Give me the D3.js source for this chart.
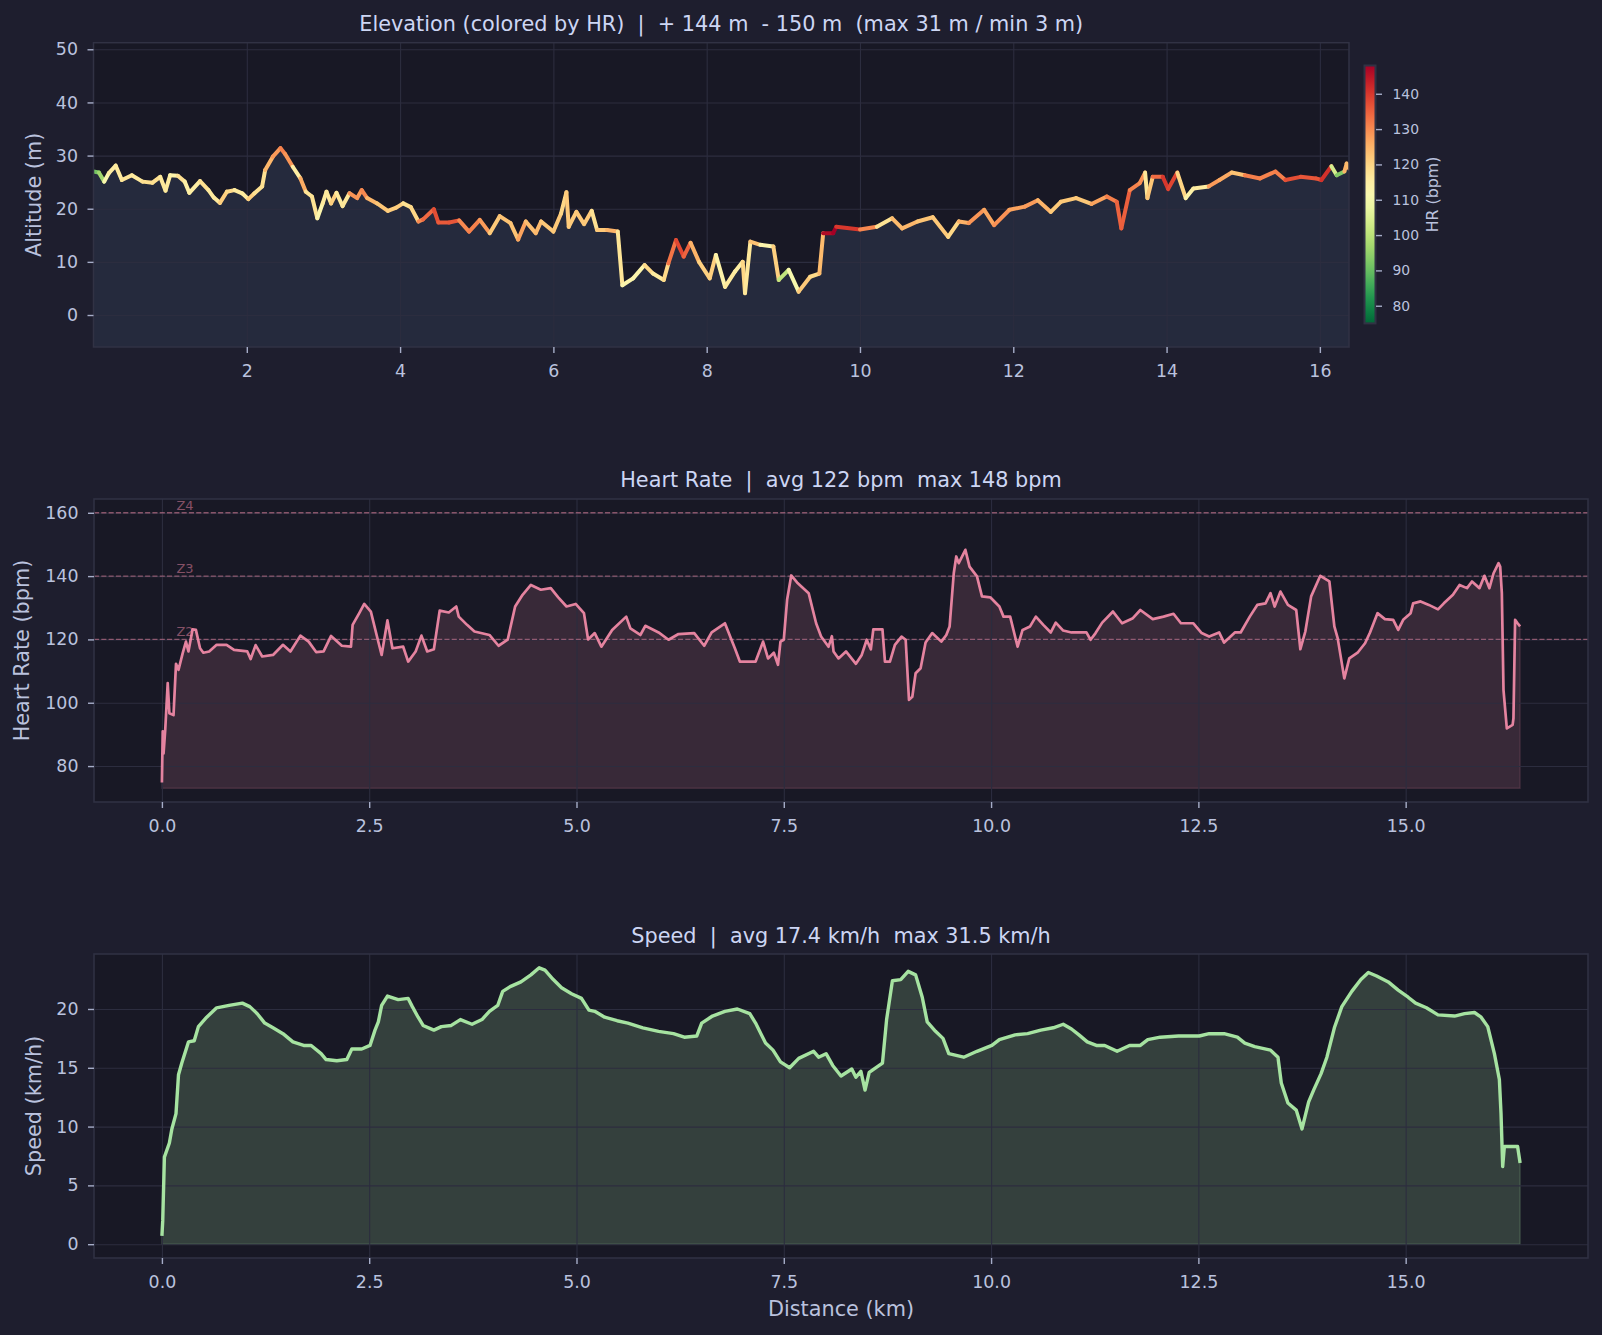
<!DOCTYPE html>
<html><head><meta charset="utf-8">
<script src="https://cdn.jsdelivr.net/npm/d3@7"></script>
<style>body{margin:0;background:#1e1e2e;}svg{display:block}</style>
</head><body><svg id="c" width="1602" height="1335"></svg>
<script>
// ---------------- DATA ----------------
const elevDist=[0.00,0.07,0.14,0.20,0.29,0.37,0.50,0.64,0.77,0.87,0.94,1.00,1.10,1.19,1.25,1.39,1.50,1.57,1.65,1.74,1.84,1.94,2.02,2.10,2.20,2.24,2.34,2.44,2.50,2.60,2.70,2.77,2.85,2.92,2.99,3.04,3.10,3.17,3.25,3.34,3.44,3.50,3.57,3.70,3.84,3.95,4.04,4.14,4.24,4.30,4.44,4.50,4.64,4.77,4.90,5.04,5.17,5.30,5.44,5.54,5.64,5.77,5.84,6.00,6.10,6.17,6.20,6.30,6.40,6.50,6.57,6.70,6.84,6.90,7.04,7.19,7.30,7.44,7.50,7.60,7.70,7.79,7.90,8.04,8.12,8.24,8.37,8.47,8.50,8.57,8.70,8.87,8.94,9.07,9.20,9.35,9.47,9.52,9.65,9.69,10.00,10.22,10.42,10.55,10.75,10.95,11.15,11.29,11.42,11.62,11.75,11.95,12.15,12.32,12.49,12.62,12.82,13.02,13.22,13.35,13.41,13.52,13.65,13.72,13.75,13.82,13.95,14.02,14.14,14.25,14.35,14.55,14.69,14.85,15.02,15.22,15.42,15.55,15.75,15.95,16.02,16.15,16.22,16.32,16.35,16.38];
const elevAlt=[27.0,26.8,25.1,26.7,28.1,25.4,26.3,25.1,24.9,26.0,23.4,26.3,26.2,25.1,23.0,25.2,23.5,22.1,21.1,23.2,23.5,22.9,21.8,22.9,24.2,27.3,29.8,31.4,30.3,27.9,25.7,23.2,22.3,18.2,21.0,23.2,21.0,23.0,20.5,22.9,22.0,23.5,22.0,21.0,19.6,20.2,21.0,20.3,17.6,18.0,19.9,17.4,17.4,17.8,15.7,17.9,15.4,18.6,17.3,14.2,17.6,15.4,17.6,15.7,19.1,23.1,16.6,19.4,17.1,19.6,16.0,16.0,15.7,5.6,6.9,9.4,7.8,6.6,9.7,14.1,11.0,13.6,10.0,6.9,11.3,5.3,8.2,10.0,4.1,13.8,13.2,12.9,6.6,8.5,4.4,7.2,7.8,15.4,15.4,16.6,16.1,16.6,18.2,16.3,17.6,18.4,14.7,17.6,17.3,19.8,16.9,19.8,20.4,21.6,19.4,21.3,22.0,20.9,22.3,21.3,16.3,23.5,24.8,26.8,22.0,26.0,26.0,23.7,26.8,22.0,23.8,24.2,25.4,26.8,26.3,25.7,27.0,25.4,26.0,25.7,25.4,28.0,26.3,27.0,28.5,27.6];

const hrDist=[0.00,0.01,0.02,0.04,0.07,0.09,0.14,0.17,0.20,0.25,0.29,0.32,0.37,0.41,0.46,0.50,0.57,0.66,0.78,0.87,1.03,1.07,1.13,1.21,1.34,1.46,1.55,1.67,1.77,1.86,1.95,2.04,2.17,2.28,2.30,2.38,2.44,2.52,2.60,2.65,2.72,2.78,2.91,2.97,3.06,3.13,3.20,3.28,3.35,3.46,3.55,3.58,3.68,3.77,3.95,4.06,4.17,4.26,4.35,4.45,4.57,4.69,4.78,4.88,4.99,5.09,5.14,5.22,5.30,5.43,5.60,5.65,5.77,5.83,5.99,6.11,6.23,6.42,6.54,6.63,6.79,6.91,6.97,7.16,7.25,7.31,7.38,7.43,7.46,7.50,7.54,7.59,7.66,7.80,7.89,7.95,8.04,8.08,8.10,8.16,8.25,8.37,8.44,8.50,8.55,8.58,8.69,8.72,8.78,8.84,8.92,8.97,9.01,9.05,9.09,9.15,9.21,9.29,9.40,9.46,9.50,9.55,9.58,9.61,9.69,9.74,9.83,9.89,9.99,10.10,10.15,10.23,10.32,10.38,10.47,10.54,10.63,10.72,10.78,10.87,10.97,11.15,11.20,11.26,11.34,11.47,11.58,11.71,11.80,11.95,12.08,12.20,12.29,12.44,12.54,12.63,12.75,12.81,12.94,13.01,13.12,13.21,13.31,13.37,13.42,13.49,13.58,13.68,13.73,13.79,13.86,13.97,14.08,14.14,14.18,14.26,14.32,14.42,14.51,14.57,14.66,14.75,14.85,14.91,14.97,15.06,15.09,15.18,15.28,15.39,15.46,15.57,15.65,15.74,15.80,15.89,15.95,16.01,16.06,16.12,16.14,16.16,16.18,16.22,16.29,16.30,16.32,16.35,16.38];
const hrBpm=[74.8,91.0,84.0,91.4,106.2,96.7,96.1,112.3,110.4,115.6,119.3,116.2,123.2,123.0,117.2,115.8,116.2,118.3,118.3,116.7,116.2,113.8,118.2,114.6,115.1,118.3,116.2,121.2,119.3,116.0,116.2,121.1,118.0,117.7,124.6,128.3,131.2,128.8,120.3,115.1,126.0,117.2,117.7,113.0,116.2,121.2,116.2,116.9,129.1,128.5,130.4,127.2,124.6,122.5,121.4,118.0,119.9,130.4,134.1,137.2,135.7,136.2,133.3,130.4,131.2,128.3,120.0,122.0,117.7,123.0,127.2,123.5,121.4,124.3,122.2,119.9,121.7,122.0,118.0,122.2,125.1,117.2,113.0,113.0,119.3,114.0,115.8,112.0,119.3,119.9,132.5,140.2,138.0,134.6,125.1,120.9,117.7,121.0,116.2,114.0,116.2,112.3,115.1,119.9,116.9,123.2,123.2,113.0,113.0,118.3,120.9,119.9,100.9,101.9,109.3,110.9,119.0,122.0,119.3,121.4,124.1,140.9,146.2,144.1,148.3,143.0,139.9,133.6,133.3,130.4,127.2,127.2,117.7,123.0,124.1,127.2,124.6,122.2,125.3,122.8,122.2,122.2,119.9,122.0,125.3,128.8,125.1,126.7,129.3,126.4,127.2,128.1,125.1,125.1,122.0,120.9,122.2,119.0,122.2,122.2,127.2,130.9,131.4,134.6,130.4,135.1,130.9,129.3,116.9,122.5,133.6,140.1,138.3,124.1,120.4,107.7,114.0,115.8,118.8,122.2,128.3,126.4,126.2,123.0,126.2,128.3,131.4,132.0,130.9,129.5,131.4,134.1,137.2,136.2,138.3,136.2,140.1,136.2,140.9,144.1,143.0,134.6,104.0,91.9,93.0,95.1,126.2,125.1,124.1];

const spdDist=[0.00,0.01,0.03,0.09,0.12,0.17,0.20,0.24,0.32,0.39,0.44,0.54,0.66,0.81,0.97,1.06,1.15,1.24,1.34,1.46,1.58,1.71,1.80,1.92,1.98,2.11,2.23,2.29,2.41,2.51,2.57,2.61,2.65,2.72,2.85,2.97,3.02,3.09,3.15,3.28,3.37,3.49,3.60,3.74,3.86,3.95,4.05,4.11,4.20,4.33,4.45,4.55,4.62,4.72,4.82,4.94,5.06,5.15,5.22,5.34,5.49,5.62,5.80,5.99,6.17,6.30,6.45,6.51,6.64,6.79,6.94,7.09,7.16,7.28,7.37,7.46,7.57,7.68,7.86,7.92,8.01,8.09,8.19,8.32,8.37,8.43,8.48,8.53,8.69,8.74,8.81,8.91,9.00,9.09,9.17,9.23,9.33,9.42,9.49,9.67,9.83,10.01,10.10,10.29,10.44,10.60,10.75,10.87,10.97,11.06,11.16,11.27,11.37,11.52,11.67,11.80,11.89,12.04,12.26,12.51,12.63,12.81,12.97,13.06,13.18,13.37,13.46,13.50,13.58,13.68,13.75,13.83,13.89,13.98,14.05,14.14,14.23,14.35,14.46,14.55,14.65,14.79,14.91,15.03,15.12,15.25,15.39,15.59,15.71,15.83,15.91,15.99,16.07,16.13,16.15,16.17,16.19,16.35,16.38];
const spdKmh=[0.7,2.0,7.4,8.6,9.8,11.1,14.4,15.4,17.2,17.3,18.5,19.3,20.1,20.3,20.5,20.2,19.6,18.8,18.4,17.9,17.2,16.9,16.9,16.2,15.7,15.6,15.7,16.6,16.6,16.9,18.2,18.9,20.3,21.1,20.8,20.9,20.2,19.3,18.6,18.2,18.5,18.6,19.1,18.7,19.1,19.8,20.3,21.5,21.9,22.3,22.9,23.5,23.3,22.5,21.8,21.3,20.9,19.9,19.8,19.3,19.0,18.8,18.4,18.1,17.9,17.6,17.7,18.8,19.4,19.8,20.0,19.6,18.8,17.1,16.5,15.5,15.0,15.8,16.4,15.9,16.2,15.2,14.3,14.9,14.2,14.7,13.1,14.6,15.4,19.1,22.4,22.5,23.2,22.9,21.0,18.9,18.1,17.5,16.2,15.9,16.4,16.9,17.4,17.8,17.9,18.2,18.4,18.7,18.3,17.8,17.2,16.9,16.9,16.4,16.9,16.9,17.4,17.6,17.7,17.7,17.9,17.9,17.6,17.1,16.8,16.5,15.9,13.7,12.0,11.4,9.8,12.1,13.1,14.5,15.9,18.4,20.2,21.5,22.5,23.1,22.8,22.3,21.6,21.0,20.5,20.1,19.5,19.4,19.6,19.7,19.3,18.5,16.2,14.0,11.1,6.6,8.3,8.3,6.9];

const zoneBpm=[120,140,160];
const zoneNames=["Z2","Z3","Z4"];
const elevXTicks=[2,4,6,8,10,12,14,16];
const elevYTicks=[0,10,20,30,40,50];
const distTicks=[0,2.5,5,7.5,10,12.5,15];
const hrYTicks=[80,100,120,140,160];
const spdYTicks=[0,5,10,15,20];
const cbTicks=[80,90,100,110,120,130,140];
const titles=["Elevation (colored by HR)  |  + 144 m  - 150 m  (max 31 m / min 3 m)",
              "Heart Rate  |  avg 122 bpm  max 148 bpm",
              "Speed  |  avg 17.4 km/h  max 31.5 km/h"];
const yLabels=["Altitude (m)","Heart Rate (bpm)","Speed (km/h)"];
const xLabel="Distance (km)";
const cbLabel="HR (bpm)";

// ---------------- STYLE / LAYOUT ----------------
const FONT="DejaVu Sans, Verdana, sans-serif";
const C={bg:"#1e1e2e",face:"#181825",text:"#cdd6f4",tick:"#bac2de",tickLine:"#a6adc8",grid:"#2c2d3f",spine:"#313244",hr:"#f38ba8",spd:"#a6e3a1",elevFill:"#252a3d"};
const P1={l:93.5,r:1349,t:42.7,b:347};
const P2={l:94,r:1588,t:499,b:802};
const P3={l:94,r:1588,t:954,b:1258};

const svg=d3.select("#c");
svg.append("rect").attr("width",1602).attr("height",1335).attr("fill",C.bg);

const x1=d3.scaleLinear().domain([0,16.38]).range([P1.l,P1.r]);
const y1=d3.scaleLinear().domain([-6.02,51.24]).range([P1.b,P1.t]);
const x2=d3.scaleLinear().domain([-0.819,17.199]).range([P2.l,P2.r]);
const y2=d3.scaleLinear().domain([68.65,164.35]).range([P2.b,P2.t]);
const x3=d3.scaleLinear().domain([-0.819,17.199]).range([P3.l,P3.r]);
const y3=d3.scaleLinear().domain([-1.175,24.675]).range([P3.b,P3.t]);
const hrMin=75, hrMax=148;
const cmap=d3.scaleSequential(t=>d3.interpolateRdYlGn(1-t)).domain([hrMin,hrMax]);

const defs=svg.append("defs");
function panelBase(box,id){
  defs.append("clipPath").attr("id",id).append("rect")
    .attr("x",box.l).attr("y",box.t).attr("width",box.r-box.l).attr("height",box.b-box.t);
  svg.append("rect").attr("x",box.l).attr("y",box.t).attr("width",box.r-box.l).attr("height",box.b-box.t).attr("fill",C.face);
  return svg.append("g").attr("clip-path",`url(#${id})`);
}
function grid(g,box,x,y,xt,yt){
  const gx=g.append("g").attr("transform",`translate(0,${box.b})`)
    .call(d3.axisBottom(x).tickValues(xt).tickSize(-(box.b-box.t)).tickFormat(""));
  gx.select(".domain").remove();
  gx.selectAll("line").attr("stroke",C.grid).attr("stroke-width",1.1);
  const gy=g.append("g").attr("transform",`translate(${box.l},0)`)
    .call(d3.axisLeft(y).tickValues(yt).tickSize(-(box.r-box.l)).tickFormat(""));
  gy.select(".domain").remove();
  gy.selectAll("line").attr("stroke",C.grid).attr("stroke-width",1.1);
}
function axes(box,x,y,xt,yt,xf,yf,title,ylab,ylabX,titleX,titleY){
  svg.append("rect").attr("x",box.l).attr("y",box.t).attr("width",box.r-box.l).attr("height",box.b-box.t)
    .attr("fill","none").attr("stroke",C.spine).attr("stroke-width",1.5);
  const ax=svg.append("g").attr("transform",`translate(0,${box.b})`)
    .call(d3.axisBottom(x).tickValues(xt).tickFormat(xf).tickSize(6).tickSizeOuter(0));
  ax.select(".domain").remove();
  ax.selectAll("line").attr("stroke",C.tickLine).attr("stroke-width",1.4);
  ax.selectAll("text").attr("fill",C.tick).attr("font-size",17.4).attr("font-family",FONT).attr("y",29.5).attr("dy",null);
  const ay=svg.append("g").attr("transform",`translate(${box.l},0)`)
    .call(d3.axisLeft(y).tickValues(yt).tickFormat(yf).tickSize(6).tickPadding(9.5).tickSizeOuter(0));
  ay.select(".domain").remove();
  ay.selectAll("line").attr("stroke",C.tickLine).attr("stroke-width",1.4);
  ay.selectAll("text").attr("fill",C.tick).attr("font-size",17.4).attr("font-family",FONT);
  svg.append("text").attr("x",titleX).attr("y",titleY).attr("text-anchor","middle")
    .attr("font-family",FONT).attr("font-size",20.8).attr("fill",C.text).attr("xml:space","preserve")
    .style("white-space","pre").text(title);
  svg.append("text").attr("transform",`translate(${ylabX},${(box.t+box.b)/2}) rotate(-90)`)
    .attr("text-anchor","middle").attr("font-family",FONT).attr("font-size",20.8).attr("fill",C.tick).text(ylab);
}

// ---------------- PANEL 1: Elevation ----------------
const g1=panelBase(P1,"cp1");
g1.append("path").datum(elevDist.map((d,i)=>[d,elevAlt[i]]))
  .attr("d",d3.area().x(d=>x1(d[0])).y0(y1(y1.domain()[0])).y1(d=>y1(d[1])))
  .attr("fill",C.elevFill);
grid(g1,P1,x1,y1,elevXTicks,elevYTicks);
const hrBis=d3.bisector(d=>d).center;
function hrAt(km){return hrBpm[hrBis(hrDist,km)];}
const segs=d3.pairs(elevDist.map((d,i)=>[d,elevAlt[i]]));
g1.append("g").selectAll("line").data(segs).join("line")
  .attr("x1",s=>x1(s[0][0])).attr("y1",s=>y1(s[0][1]))
  .attr("x2",s=>x1(s[1][0])).attr("y2",s=>y1(s[1][1]))
  .attr("stroke",s=>cmap(hrAt((s[0][0]+s[1][0])/2)))
  .attr("stroke-width",4).attr("stroke-linecap","round");
axes(P1,x1,y1,elevXTicks,elevYTicks,d3.format("d"),d3.format("d"),titles[0],yLabels[0],41,(P1.l+P1.r)/2,30.6);

// colorbar
const cb={x:1364.5,w:11,t:65.5,b:323.4};
const yc=d3.scaleLinear().domain([hrMin,hrMax]).range([cb.b,cb.t]);
const grad=defs.append("linearGradient").attr("id","cbg").attr("x1",0).attr("y1",1).attr("x2",0).attr("y2",0);
d3.range(0,1.0001,0.05).forEach(t=>grad.append("stop").attr("offset",t).attr("stop-color",cmap(hrMin+t*(hrMax-hrMin))));
svg.append("rect").attr("x",cb.x).attr("y",cb.t).attr("width",cb.w).attr("height",cb.b-cb.t)
  .attr("fill","url(#cbg)").attr("stroke",C.spine).attr("stroke-width",2);
const acb=svg.append("g").attr("transform",`translate(${cb.x+cb.w+0.5},0)`)
  .call(d3.axisRight(yc).tickValues(cbTicks).tickSize(6).tickPadding(10.5).tickSizeOuter(0));
acb.select(".domain").remove();
acb.selectAll("line").attr("stroke",C.tickLine).attr("stroke-width",1.4);
acb.selectAll("text").attr("fill",C.tick).attr("font-size",13.9).attr("font-family",FONT);
svg.append("text").attr("transform",`translate(1438,${(cb.t+cb.b)/2}) rotate(-90)`)
  .attr("text-anchor","middle").attr("font-family",FONT).attr("font-size",15.8).attr("fill",C.tick).text(cbLabel);

// ---------------- PANEL 2: Heart rate ----------------
const g2=panelBase(P2,"cp2");
const hrPts=hrDist.map((d,i)=>[d,hrBpm[i]]);
g2.append("path").datum(hrPts)
  .attr("d",d3.area().x(d=>x2(d[0])).y0(y2(73)).y1(d=>y2(d[1])))
  .attr("fill",C.hr).attr("fill-opacity",0.15).attr("stroke",C.hr).attr("stroke-opacity",0.15).attr("stroke-width",1.4);
grid(g2,P2,x2,y2,distTicks,hrYTicks);
g2.append("g").selectAll("line").data(zoneBpm).join("line")
  .attr("x1",P2.l).attr("x2",P2.r).attr("y1",d=>y2(d)).attr("y2",d=>y2(d))
  .attr("stroke",C.hr).attr("stroke-opacity",0.5).attr("stroke-width",1.4).attr("stroke-dasharray","5.1,2.2");
g2.append("g").selectAll("text").data(zoneBpm).join("text")
  .attr("x",x2(0.175)).attr("y",d=>y2(d)-3).attr("font-family",FONT).attr("font-size",13)
  .attr("fill",C.hr).attr("fill-opacity",0.5).text((d,i)=>zoneNames[i]);
g2.append("path").datum(hrPts)
  .attr("d",d3.line().x(d=>x2(d[0])).y(d=>y2(d[1])))
  .attr("fill","none").attr("stroke",C.hr).attr("stroke-opacity",0.92).attr("stroke-width",2.7).attr("stroke-linejoin","round");
axes(P2,x2,y2,distTicks,hrYTicks,d3.format(".1f"),d3.format("d"),titles[1],yLabels[1],28.5,(P2.l+P2.r)/2,486.5);

// ---------------- PANEL 3: Speed ----------------
const g3=panelBase(P3,"cp3");
const spPts=spdDist.map((d,i)=>[d,spdKmh[i]]);
g3.append("path").datum(spPts)
  .attr("d",d3.area().x(d=>x3(d[0])).y0(y3(0)).y1(d=>y3(d[1])))
  .attr("fill",C.spd).attr("fill-opacity",0.2).attr("stroke",C.spd).attr("stroke-opacity",0.2).attr("stroke-width",1.4);
grid(g3,P3,x3,y3,distTicks,spdYTicks);
g3.append("path").datum(spPts)
  .attr("d",d3.line().x(d=>x3(d[0])).y(d=>y3(d[1])))
  .attr("fill","none").attr("stroke",C.spd).attr("stroke-width",3.4).attr("stroke-linejoin","round");
axes(P3,x3,y3,distTicks,spdYTicks,d3.format(".1f"),d3.format("d"),titles[2],yLabels[2],40.5,(P3.l+P3.r)/2,943);
svg.append("text").attr("x",(P3.l+P3.r)/2).attr("y",1315.5).attr("text-anchor","middle")
  .attr("font-family",FONT).attr("font-size",20.8).attr("fill",C.tick).text(xLabel);
</script></body></html>
